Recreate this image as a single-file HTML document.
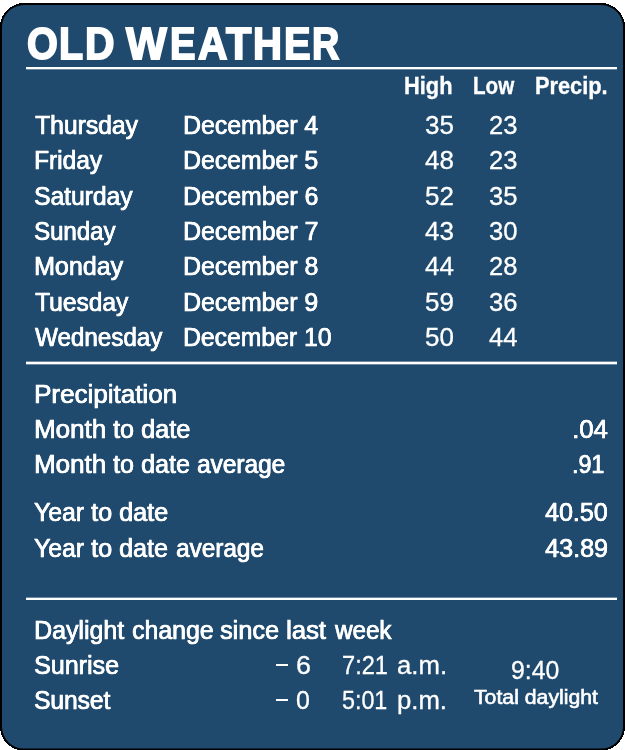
<!DOCTYPE html><html><head><meta charset="utf-8"><style>
html,body{margin:0;padding:0;background:#fff;width:625px;height:750px;overflow:hidden;position:relative}
.box{position:absolute;left:0;top:0}
.ln{position:absolute;left:26px;width:591px;background:#fff}
.t{position:absolute;white-space:nowrap;line-height:1;color:#fff;font-family:"Liberation Sans",sans-serif;transform-origin:0 0;backface-visibility:hidden}
.b{display:inline-block;width:0;height:0}

</style></head><body>
<svg class="box" width="625" height="750" viewBox="0 0 625 750"><rect x="0" y="3" width="625" height="747.6" rx="24" fill="#000" shape-rendering="crispEdges"/><rect x="2" y="5" width="621" height="743.6" rx="22" fill="#1f4a6e"/></svg>

<div class="ln" style="top:67px;height:2px;box-shadow:0 1px 0 rgba(255,255,255,.35)"></div>
<div class="ln" style="top:362px;height:2px;box-shadow:0 1px 0 rgba(255,255,255,.35),0 -1px 0 rgba(255,255,255,.35)"></div>
<div class="ln" style="top:598px;height:2px;box-shadow:0 -1px 0 rgba(255,255,255,.35)"></div>
<div class="ln" style="left:275.6px;top:663.9px;width:12.8px;height:2.2px"></div>
<div class="ln" style="left:275.6px;top:698.8px;width:12.8px;height:2.2px"></div>
<div class="t" id="t0" style="left:27.21px;top:22.01px;font-size:43.90px;font-weight:700;transform:scaleX(0.9029);-webkit-text-stroke:1.80px #fff;">O</div>
<div class="t" id="t1" style="left:59.01px;top:22.01px;font-size:43.90px;font-weight:700;transform:scaleX(0.9008);-webkit-text-stroke:1.80px #fff;">L</div>
<div class="t" id="t2" style="left:85.00px;top:22.01px;font-size:43.90px;font-weight:700;transform:scaleX(0.9311);-webkit-text-stroke:1.80px #fff;">D</div>
<div class="t" id="t3" style="left:125.77px;top:22.01px;font-size:43.90px;font-weight:700;transform:scaleX(0.9832);-webkit-text-stroke:1.80px #fff;">W</div>
<div class="t" id="t4" style="left:170.10px;top:22.01px;font-size:43.90px;font-weight:700;transform:scaleX(0.8709);-webkit-text-stroke:1.80px #fff;">E</div>
<div class="t" id="t5" style="left:197.96px;top:22.01px;font-size:43.90px;font-weight:700;transform:scaleX(0.9286);-webkit-text-stroke:1.80px #fff;">A</div>
<div class="t" id="t6" style="left:225.96px;top:22.01px;font-size:43.90px;font-weight:700;transform:scaleX(0.9479);-webkit-text-stroke:1.80px #fff;">T</div>
<div class="t" id="t7" style="left:253.14px;top:22.01px;font-size:43.90px;font-weight:700;transform:scaleX(0.9137);-webkit-text-stroke:1.80px #fff;">H</div>
<div class="t" id="t8" style="left:284.17px;top:22.01px;font-size:43.90px;font-weight:700;transform:scaleX(0.9091);-webkit-text-stroke:1.80px #fff;">E</div>
<div class="t" id="t9" style="left:311.83px;top:22.01px;font-size:43.90px;font-weight:700;transform:scaleX(0.8599);-webkit-text-stroke:1.80px #fff;">R</div>
<div class="t" id="hHigh" style="left:404.38px;top:75.01px;font-size:23.00px;font-weight:700;transform:scaleX(0.9491);-webkit-text-stroke:0.30px #fff;">High</div>
<div class="t" id="hLow" style="left:472.60px;top:75.01px;font-size:23.00px;font-weight:700;transform:scaleX(0.8957);-webkit-text-stroke:0.30px #fff;">Low</div>
<div class="t" id="hPrec" style="left:534.96px;top:74.60px;font-size:23.00px;font-weight:700;transform:scaleX(0.9469);-webkit-text-stroke:0.30px #fff;">Precip.</div>
<div class="t" id="day0" style="left:35.07px;top:113.00px;font-size:25.20px;transform:scaleX(0.9803);-webkit-text-stroke:0.60px #fff;text-shadow:0.40px 0 0 #fff;">Thursday</div>
<div class="t" id="date0" style="left:182.75px;top:113.00px;font-size:25.20px;transform:scaleX(0.9853);-webkit-text-stroke:0.60px #fff;text-shadow:0.40px 0 0 #fff;">December 4</div>
<div class="t" id="hi0" style="left:425.37px;top:113.00px;font-size:25.20px;transform:scaleX(1.0314);-webkit-text-stroke:0.30px #fff;">35</div>
<div class="t" id="lo0" style="left:488.53px;top:113.00px;font-size:25.20px;transform:scaleX(1.0170);-webkit-text-stroke:0.30px #fff;">23</div>
<div class="t" id="day1" style="left:34.07px;top:148.21px;font-size:25.20px;transform:scaleX(0.9716);-webkit-text-stroke:0.60px #fff;text-shadow:0.40px 0 0 #fff;">Friday</div>
<div class="t" id="date1" style="left:183.00px;top:148.01px;font-size:25.20px;transform:scaleX(0.9842);-webkit-text-stroke:0.60px #fff;text-shadow:0.40px 0 0 #fff;">December 5</div>
<div class="t" id="hi1" style="left:425.37px;top:148.21px;font-size:25.20px;transform:scaleX(1.0314);-webkit-text-stroke:0.30px #fff;">48</div>
<div class="t" id="lo1" style="left:488.53px;top:148.01px;font-size:25.20px;transform:scaleX(1.0170);-webkit-text-stroke:0.30px #fff;">23</div>
<div class="t" id="day2" style="left:34.22px;top:184.01px;font-size:25.20px;transform:scaleX(0.9763);-webkit-text-stroke:0.60px #fff;text-shadow:0.40px 0 0 #fff;">Saturday</div>
<div class="t" id="date2" style="left:183.21px;top:184.00px;font-size:25.20px;transform:scaleX(0.9857);-webkit-text-stroke:0.60px #fff;text-shadow:0.40px 0 0 #fff;">December 6</div>
<div class="t" id="hi2" style="left:425.37px;top:184.00px;font-size:25.20px;transform:scaleX(1.0314);-webkit-text-stroke:0.30px #fff;">52</div>
<div class="t" id="lo2" style="left:488.53px;top:184.01px;font-size:25.20px;transform:scaleX(1.0170);-webkit-text-stroke:0.30px #fff;">35</div>
<div class="t" id="day3" style="left:34.37px;top:219.01px;font-size:25.20px;transform:scaleX(0.9529);-webkit-text-stroke:0.60px #fff;text-shadow:0.40px 0 0 #fff;">Sunday</div>
<div class="t" id="date3" style="left:183.11px;top:219.01px;font-size:25.20px;transform:scaleX(0.9862);-webkit-text-stroke:0.60px #fff;text-shadow:0.40px 0 0 #fff;">December 7</div>
<div class="t" id="hi3" style="left:425.37px;top:219.00px;font-size:25.20px;transform:scaleX(1.0314);-webkit-text-stroke:0.30px #fff;">43</div>
<div class="t" id="lo3" style="left:488.53px;top:219.01px;font-size:25.20px;transform:scaleX(1.0170);-webkit-text-stroke:0.30px #fff;">30</div>
<div class="t" id="day4" style="left:34.30px;top:253.81px;font-size:25.20px;transform:scaleX(0.9941);-webkit-text-stroke:0.60px #fff;text-shadow:0.40px 0 0 #fff;">Monday</div>
<div class="t" id="date4" style="left:183.34px;top:254.01px;font-size:25.20px;transform:scaleX(0.9854);-webkit-text-stroke:0.60px #fff;text-shadow:0.40px 0 0 #fff;">December 8</div>
<div class="t" id="hi4" style="left:425.37px;top:254.01px;font-size:25.20px;transform:scaleX(1.0314);-webkit-text-stroke:0.30px #fff;">44</div>
<div class="t" id="lo4" style="left:488.53px;top:254.01px;font-size:25.20px;transform:scaleX(1.0170);-webkit-text-stroke:0.30px #fff;">28</div>
<div class="t" id="day5" style="left:34.63px;top:290.00px;font-size:25.20px;transform:scaleX(0.9747);-webkit-text-stroke:0.60px #fff;text-shadow:0.40px 0 0 #fff;">Tuesday</div>
<div class="t" id="date5" style="left:182.92px;top:290.00px;font-size:25.20px;transform:scaleX(0.9846);-webkit-text-stroke:0.60px #fff;text-shadow:0.40px 0 0 #fff;">December 9</div>
<div class="t" id="hi5" style="left:425.37px;top:290.00px;font-size:25.20px;transform:scaleX(1.0314);-webkit-text-stroke:0.30px #fff;">59</div>
<div class="t" id="lo5" style="left:488.53px;top:290.00px;font-size:25.20px;transform:scaleX(1.0170);-webkit-text-stroke:0.30px #fff;">36</div>
<div class="t" id="day6" style="left:35.06px;top:325.01px;font-size:25.20px;transform:scaleX(0.9601);-webkit-text-stroke:0.60px #fff;text-shadow:0.40px 0 0 #fff;">Wednesday</div>
<div class="t" id="date6" style="left:183.39px;top:325.01px;font-size:25.20px;transform:scaleX(0.9813);-webkit-text-stroke:0.60px #fff;text-shadow:0.40px 0 0 #fff;">December 10</div>
<div class="t" id="hi6" style="left:425.37px;top:325.01px;font-size:25.20px;transform:scaleX(1.0314);-webkit-text-stroke:0.30px #fff;">50</div>
<div class="t" id="lo6" style="left:488.53px;top:325.01px;font-size:25.20px;transform:scaleX(1.0170);-webkit-text-stroke:0.30px #fff;">44</div>
<div class="t" id="prec" style="left:34.08px;top:381.91px;font-size:25.20px;transform:scaleX(1.0321);-webkit-text-stroke:0.60px #fff;text-shadow:0.40px 0 0 #fff;">Precipitation</div>
<div class="t" id="mtd0" style="left:34.27px;top:417.01px;font-size:25.20px;transform:scaleX(1.0293);-webkit-text-stroke:0.60px #fff;text-shadow:0.40px 0 0 #fff;">Month</div>
<div class="t" id="mtd1" style="left:112.75px;top:417.01px;font-size:25.20px;transform:scaleX(0.9950);-webkit-text-stroke:0.60px #fff;text-shadow:0.40px 0 0 #fff;">to</div>
<div class="t" id="mtd2" style="left:141.13px;top:416.81px;font-size:25.20px;transform:scaleX(1.0048);-webkit-text-stroke:0.60px #fff;text-shadow:0.40px 0 0 #fff;">date</div>
<div class="t" id="mtda0" style="left:34.27px;top:452.01px;font-size:25.20px;transform:scaleX(1.0293);-webkit-text-stroke:0.60px #fff;text-shadow:0.40px 0 0 #fff;">Month</div>
<div class="t" id="mtda1" style="left:112.75px;top:452.01px;font-size:25.20px;transform:scaleX(0.9950);-webkit-text-stroke:0.60px #fff;text-shadow:0.40px 0 0 #fff;">to</div>
<div class="t" id="mtda2" style="left:141.40px;top:452.01px;font-size:25.20px;transform:scaleX(0.9974);-webkit-text-stroke:0.60px #fff;text-shadow:0.40px 0 0 #fff;">date</div>
<div class="t" id="mtda3" style="left:197.39px;top:452.01px;font-size:25.20px;transform:scaleX(0.9680);-webkit-text-stroke:0.60px #fff;text-shadow:0.40px 0 0 #fff;">average</div>
<div class="t" id="v1" style="left:571.64px;top:416.71px;font-size:25.20px;transform:scaleX(1.0216);-webkit-text-stroke:0.60px #fff;text-shadow:0.40px 0 0 #fff;">.04</div>
<div class="t" id="v2" style="left:572.34px;top:452.01px;font-size:25.20px;transform:scaleX(0.9217);-webkit-text-stroke:0.60px #fff;text-shadow:0.40px 0 0 #fff;">.91</div>
<div class="t" id="ytd0" style="left:34.32px;top:500.00px;font-size:25.20px;transform:scaleX(0.9813);-webkit-text-stroke:0.60px #fff;text-shadow:0.40px 0 0 #fff;">Year</div>
<div class="t" id="ytd1" style="left:91.25px;top:499.90px;font-size:25.20px;transform:scaleX(1.0003);-webkit-text-stroke:0.60px #fff;text-shadow:0.40px 0 0 #fff;">to</div>
<div class="t" id="ytd2" style="left:119.41px;top:499.90px;font-size:25.20px;transform:scaleX(1.0029);-webkit-text-stroke:0.60px #fff;text-shadow:0.40px 0 0 #fff;">date</div>
<div class="t" id="ytda0" style="left:34.32px;top:536.00px;font-size:25.20px;transform:scaleX(0.9813);-webkit-text-stroke:0.60px #fff;text-shadow:0.40px 0 0 #fff;">Year</div>
<div class="t" id="ytda1" style="left:91.33px;top:536.01px;font-size:25.20px;transform:scaleX(1.0009);-webkit-text-stroke:0.60px #fff;text-shadow:0.40px 0 0 #fff;">to</div>
<div class="t" id="ytda2" style="left:119.40px;top:536.01px;font-size:25.20px;transform:scaleX(0.9974);-webkit-text-stroke:0.60px #fff;text-shadow:0.40px 0 0 #fff;">date</div>
<div class="t" id="ytda3" style="left:175.53px;top:535.61px;font-size:25.20px;transform:scaleX(0.9650);-webkit-text-stroke:0.60px #fff;text-shadow:0.40px 0 0 #fff;">average</div>
<div class="t" id="v3" style="left:545.31px;top:499.90px;font-size:25.20px;transform:scaleX(0.9939);-webkit-text-stroke:0.60px #fff;text-shadow:0.40px 0 0 #fff;">40.50</div>
<div class="t" id="v4" style="left:544.96px;top:536.01px;font-size:25.20px;transform:scaleX(0.9990);-webkit-text-stroke:0.60px #fff;text-shadow:0.40px 0 0 #fff;">43.89</div>
<div class="t" id="dl0" style="left:34.11px;top:617.80px;font-size:25.20px;transform:scaleX(0.9907);-webkit-text-stroke:0.60px #fff;text-shadow:0.40px 0 0 #fff;">Daylight</div>
<div class="t" id="dl1" style="left:131.60px;top:617.80px;font-size:25.20px;transform:scaleX(0.9867);-webkit-text-stroke:0.60px #fff;text-shadow:0.40px 0 0 #fff;">change</div>
<div class="t" id="dl2" style="left:220.16px;top:618.00px;font-size:25.20px;transform:scaleX(1.0022);-webkit-text-stroke:0.60px #fff;text-shadow:0.40px 0 0 #fff;">since</div>
<div class="t" id="dl3" style="left:285.51px;top:617.80px;font-size:25.20px;transform:scaleX(1.0206);-webkit-text-stroke:0.60px #fff;text-shadow:0.40px 0 0 #fff;">last</div>
<div class="t" id="dl4" style="left:334.97px;top:618.00px;font-size:25.20px;transform:scaleX(0.9599);-webkit-text-stroke:0.60px #fff;text-shadow:0.40px 0 0 #fff;">week</div>
<div class="t" id="sr" style="left:34.29px;top:653.01px;font-size:25.20px;transform:scaleX(0.9943);-webkit-text-stroke:0.60px #fff;text-shadow:0.40px 0 0 #fff;">Sunrise</div>
<div class="t" id="ss" style="left:34.30px;top:688.00px;font-size:25.20px;transform:scaleX(0.9727);-webkit-text-stroke:0.60px #fff;text-shadow:0.40px 0 0 #fff;">Sunset</div>
<div class="t" id="srd" style="left:295.76px;top:653.01px;font-size:25.20px;transform:scaleX(1.0648);-webkit-text-stroke:0.30px #fff;">6</div>
<div class="t" id="ssd" style="left:296.40px;top:688.00px;font-size:25.20px;transform:scaleX(0.9888);-webkit-text-stroke:0.30px #fff;">0</div>
<div class="t" id="srt0" style="left:341.50px;top:653.00px;font-size:25.20px;transform:scaleX(0.9370);-webkit-text-stroke:0.30px #fff;">7:21</div>
<div class="t" id="srt1" style="left:397.40px;top:653.00px;font-size:25.20px;transform:scaleX(1.0213);-webkit-text-stroke:0.30px #fff;">a.m.</div>
<div class="t" id="sst0" style="left:342.03px;top:688.00px;font-size:25.20px;transform:scaleX(0.9246);-webkit-text-stroke:0.30px #fff;">5:01</div>
<div class="t" id="sst1" style="left:397.34px;top:688.00px;font-size:25.20px;transform:scaleX(1.0201);-webkit-text-stroke:0.30px #fff;">p.m.</div>
<div class="t" id="tot" style="left:511.12px;top:657.91px;font-size:25.20px;transform:scaleX(0.9846);-webkit-text-stroke:0.30px #fff;">9:40</div>
<div class="t" id="totl" style="left:473.69px;top:687.01px;font-size:20.30px;transform:scaleX(1.0473);-webkit-text-stroke:0.60px #fff;">Total daylight</div>
</body></html>
